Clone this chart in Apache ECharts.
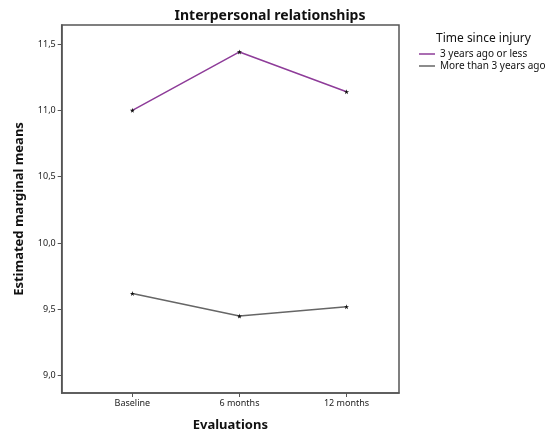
<!DOCTYPE html>
<html><head><meta charset="utf-8">
<script src="https://cdn.jsdelivr.net/npm/echarts@6/dist/echarts.min.js"></script>
<style>html,body{margin:0;padding:0;background:#fff}#c{width:549px;height:439px}</style>
</head><body><div id="c"></div>
<script>
var categories = ['Baseline', '6 months', '12 months'];
var seriesNames = ['3 years ago or less', 'More than 3 years ago'];
var recentValues = [11.00, 11.44, 11.14];
var olderValues = [9.62, 9.45, 9.52];
var yTicks = [9.0, 9.5, 10.0, 10.5, 11.0, 11.5];

var FONT = 'Noto Sans';
var PURPLE = '#8e3c99', GRAY = '#666666';
var star = 'path://M50,0L61,35L98,35L68,57L79,91L50,70L21,91L32,57L2,35L39,35Z';
function pts(vals){ return vals.map(function(v,i){ return [i+1, v]; }); }

var chart = echarts.init(document.getElementById('c'));
chart.setOption({
  animation: false,
  textStyle: {fontFamily: FONT},
  title: [
    {text: 'Interpersonal relationships', left: 265, top: 4, textAlign: 'center',
     textStyle: {fontFamily: FONT, fontSize: 14, fontWeight: 'bold', color: '#111'}},
    {text: 'Time since injury', left: 431, top: 28,
     textStyle: {fontFamily: FONT, fontSize: 12, fontWeight: 'normal', color: '#111'}}
  ],
  legend: {
    orient: 'vertical', left: 414, top: 44, itemWidth: 16, itemHeight: 1.5, itemGap: 2,
    icon: 'rect',
    data: [{name: seriesNames[0], itemStyle: {color: PURPLE}},
           {name: seriesNames[1], itemStyle: {color: GRAY}}],
    textStyle: {fontFamily: FONT, fontSize: 10, color: '#111'}
  },
  grid: {left: 61.7, right: 150, top: 25, bottom: 46, show: true, borderColor: '#555', borderWidth: 1.5, containLabel: false},
  xAxis: {
    type: 'value', min: 0.34, max: 3.49,
    name: 'Evaluations', nameLocation: 'middle', nameGap: 26,
    nameTextStyle: {fontFamily: FONT, fontSize: 13, fontWeight: 'bold', color: '#111'},
    axisLine: {show: true, lineStyle: {color: '#555', width: 1.5}},
    axisTick: {show: true, customValues: [1,2,3], length: 4, lineStyle: {color: '#555'}},
    axisLabel: {customValues: [1,2,3], fontSize: 9, color: '#222', margin: 6,
      formatter: function(v){ return categories[Math.round(v)-1] || ''; }},
    splitLine: {show: false}
  },
  yAxis: {
    type: 'value', min: 8.87, max: 11.643,
    name: 'Estimated marginal means', nameLocation: 'middle', nameGap: 36,
    nameTextStyle: {fontFamily: FONT, fontSize: 13, fontWeight: 'bold', color: '#111'},
    axisLine: {show: true, lineStyle: {color: '#555', width: 1.5}},
    axisTick: {show: true, customValues: yTicks, length: 4, lineStyle: {color: '#555'}},
    axisLabel: {customValues: yTicks, fontSize: 9, color: '#222', margin: 6,
      formatter: function(v){ return v.toFixed(1).replace('.', ','); }},
    splitLine: {show: false}
  },
  series: [
    {name: seriesNames[0], type: 'line', data: pts(recentValues), symbol: star, symbolSize: 5,
     itemStyle: {color: '#111'}, lineStyle: {color: PURPLE, width: 1.5}},
    {name: seriesNames[1], type: 'line', data: pts(olderValues), symbol: star, symbolSize: 5,
     itemStyle: {color: '#111'}, lineStyle: {color: GRAY, width: 1.5}}
  ]
});
</script></body></html>
